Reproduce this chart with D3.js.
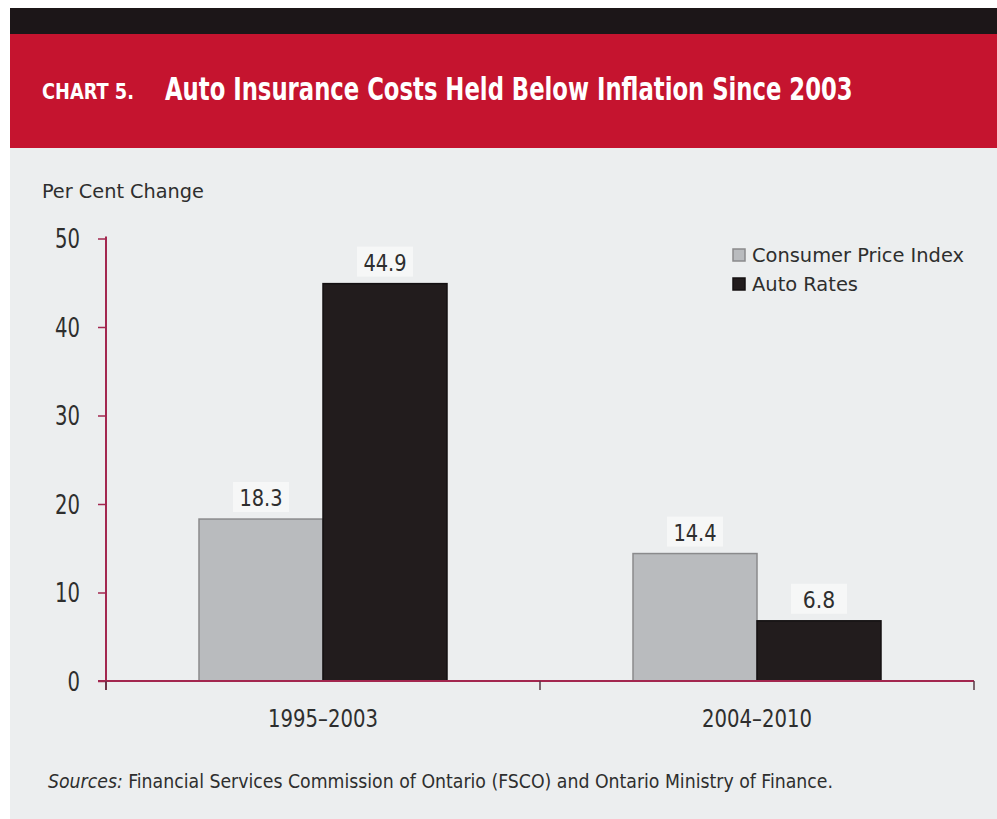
<!DOCTYPE html>
<html>
<head>
<meta charset="utf-8">
<script src="https://cdn.jsdelivr.net/npm/d3@7"></script>
<style>
  html, body { margin: 0; padding: 0; background: #ffffff; }
  svg { display: block; }
</style>
</head>
<body>
<svg id="chart" width="997" height="819"></svg>
<script>
// Chart data
const periods = ["1995\u20132003", "2004\u20132010"];
const seriesNames = ["Consumer Price Index", "Auto Rates"];
const cpiValues = [18.3, 14.4];
const autoRateValues = [44.9, 6.8];
const yTicks = [0, 10, 20, 30, 40, 50];

const rows = periods.map((p, i) => ({
  period: p,
  values: [
    { series: seriesNames[0], value: cpiValues[i] },
    { series: seriesNames[1], value: autoRateValues[i] }
  ]
}));

const W = 997, H = 819;
const NARROW = "'DejaVu Sans Condensed','Liberation Sans Narrow','Arial Narrow',sans-serif";
const RED = "#c5142f";
const AXIS = "#a3274f";
const TEXT = "#2e2e2e";

// Squeeze condensed text to a fixed advance per character
function fit(sel, perChar) {
  sel.attr("textLength", function () { return this.textContent.length * perChar; })
     .attr("lengthAdjust", "spacingAndGlyphs");
}

// Scale a text horizontally so that it spans the given width
function squeezeTo(textSel, x, yPos, width) {
  const natural = textSel.node().getComputedTextLength();
  const sx = Math.min(1, width / natural);
  textSel.attr("x", 0).attr("y", 0)
    .attr("transform", `translate(${x},${yPos}) scale(${sx},1)`);
}

const svg = d3.select("#chart");

// Page background
svg.append("rect").attr("x", 0).attr("y", 0).attr("width", W).attr("height", H).attr("fill", "#ffffff");
svg.append("rect").attr("x", 10).attr("y", 8).attr("width", W - 10).attr("height", H - 8).attr("fill", "#eceeef");

// Header bands
svg.append("rect").attr("x", 10).attr("y", 8).attr("width", W - 10).attr("height", 26).attr("fill", "#1c1618");
svg.append("rect").attr("x", 10).attr("y", 34).attr("width", W - 10).attr("height", 114).attr("fill", RED);

const chartNo = svg.append("text")
  .attr("font-family", NARROW).attr("font-weight", "bold").attr("font-size", 21)
  .attr("fill", "#fff")
  .text("CHART 5.");
squeezeTo(chartNo, 42, 99, 92);

const title = svg.append("text")
  .attr("font-family", NARROW).attr("font-weight", "bold").attr("font-size", 32)
  .attr("fill", "#fff")
  .text("Auto Insurance Costs Held Below Inflation Since 2003");
squeezeTo(title, 165, 100, 688);

// Scales
const x0 = d3.scaleBand().domain(periods).range([106, 974]).padding(0);
const x1 = d3.scaleBand().domain(seriesNames).range([0, x0.bandwidth()])
  .paddingInner(0).paddingOuter(0.75);
const y = d3.scaleLinear().domain([0, 50]).range([681, 238.5]);
const color = d3.scaleOrdinal().domain(seriesNames).range(["#b9bbbe", "#221c1d"]);
const edge = d3.scaleOrdinal().domain(seriesNames).range(["#8a8a8c", "#141012"]);

// Y axis title
svg.append("text")
  .attr("x", 42).attr("y", 198)
  .attr("font-family", NARROW).attr("font-size", 20).attr("fill", TEXT)
  .attr("textLength", 162).attr("lengthAdjust", "spacingAndGlyphs")
  .text("Per Cent Change");

// Bars
const groups = svg.append("g").selectAll("g")
  .data(rows).join("g")
  .attr("transform", d => `translate(${x0(d.period)},0)`);

groups.selectAll("rect.bar")
  .data(d => d.values).join("rect")
  .attr("class", "bar")
  .attr("x", d => x1(d.series))
  .attr("y", d => y(d.value))
  .attr("width", x1.bandwidth())
  .attr("height", d => y(0) - y(d.value))
  .attr("fill", d => color(d.series))
  .attr("stroke", d => edge(d.series))
  .attr("stroke-width", 1.5);

// Value labels with light backing
const labels = groups.selectAll("g.lbl")
  .data(d => d.values).join("g")
  .attr("class", "lbl")
  .attr("transform", d => `translate(${x1(d.series) + x1.bandwidth() / 2},${y(d.value) - 13})`);

labels.append("rect")
  .attr("x", -28).attr("y", -24).attr("width", 56).attr("height", 30)
  .attr("fill", "#f6f7f7");

labels.append("text")
  .attr("text-anchor", "middle")
  .attr("font-family", NARROW).attr("font-size", 23).attr("fill", TEXT)
  .text(d => d.value.toFixed(1))
  .call(fit, 10.8);

// Y axis
const yAxis = svg.append("g")
  .attr("transform", "translate(106,0)")
  .call(d3.axisLeft(y).tickValues(yTicks).tickSize(8).tickPadding(18).tickFormat(d3.format("d")));
yAxis.select(".domain").attr("stroke", AXIS).attr("stroke-width", 2).attr("d", `M0,${y(50) - 2}V${y(0) + 9}`);
yAxis.selectAll(".tick line").attr("stroke", AXIS).attr("stroke-width", 1.5);
yAxis.selectAll(".tick text")
  .attr("font-family", NARROW).attr("font-size", 26).attr("fill", TEXT)
  .attr("dy", "0.36em")
  .call(fit, 12.5);

// X axis baseline with ticks at category boundaries
svg.append("line")
  .attr("x1", 98).attr("x2", x0.range()[1])
  .attr("y1", y(0)).attr("y2", y(0))
  .attr("stroke", AXIS).attr("stroke-width", 2);

const bounds = [x0(periods[0])].concat(periods.map(p => x0(p) + x0.bandwidth()));
svg.append("g").selectAll("line")
  .data(bounds).join("line")
  .attr("x1", d => d).attr("x2", d => d)
  .attr("y1", y(0)).attr("y2", y(0) + 9)
  .attr("stroke", "#5a3a46").attr("stroke-width", 1.5);

svg.append("g").selectAll("text")
  .data(periods).join("text")
  .attr("x", d => x0(d) + x0.bandwidth() / 2)
  .attr("y", 727)
  .attr("text-anchor", "middle")
  .attr("font-family", NARROW).attr("font-size", 24).attr("fill", TEXT)
  .text(d => d)
  .call(fit, 12.2);

// Legend
const legend = svg.append("g").selectAll("g")
  .data(seriesNames).join("g")
  .attr("transform", (d, i) => `translate(733,${256 + i * 29})`);

legend.append("rect")
  .attr("x", 0).attr("y", -7).attr("width", 12).attr("height", 12)
  .attr("fill", d => color(d))
  .attr("stroke", d => edge(d)).attr("stroke-width", 1.5);

legend.append("text")
  .attr("x", 19).attr("y", 6)
  .attr("font-family", NARROW).attr("font-size", 20).attr("fill", TEXT)
  .text(d => d)
  .call(fit, 10.6);

// Source note
const src = svg.append("text")
  .attr("x", 48).attr("y", 788)
  .attr("font-family", NARROW).attr("font-size", 19).attr("fill", TEXT)
  .attr("textLength", 785).attr("lengthAdjust", "spacingAndGlyphs");
src.append("tspan").attr("font-style", "italic").text("Sources:");
src.append("tspan").text(" Financial Services Commission of Ontario (FSCO) and Ontario Ministry of Finance.");
</script>
</body>
</html>
